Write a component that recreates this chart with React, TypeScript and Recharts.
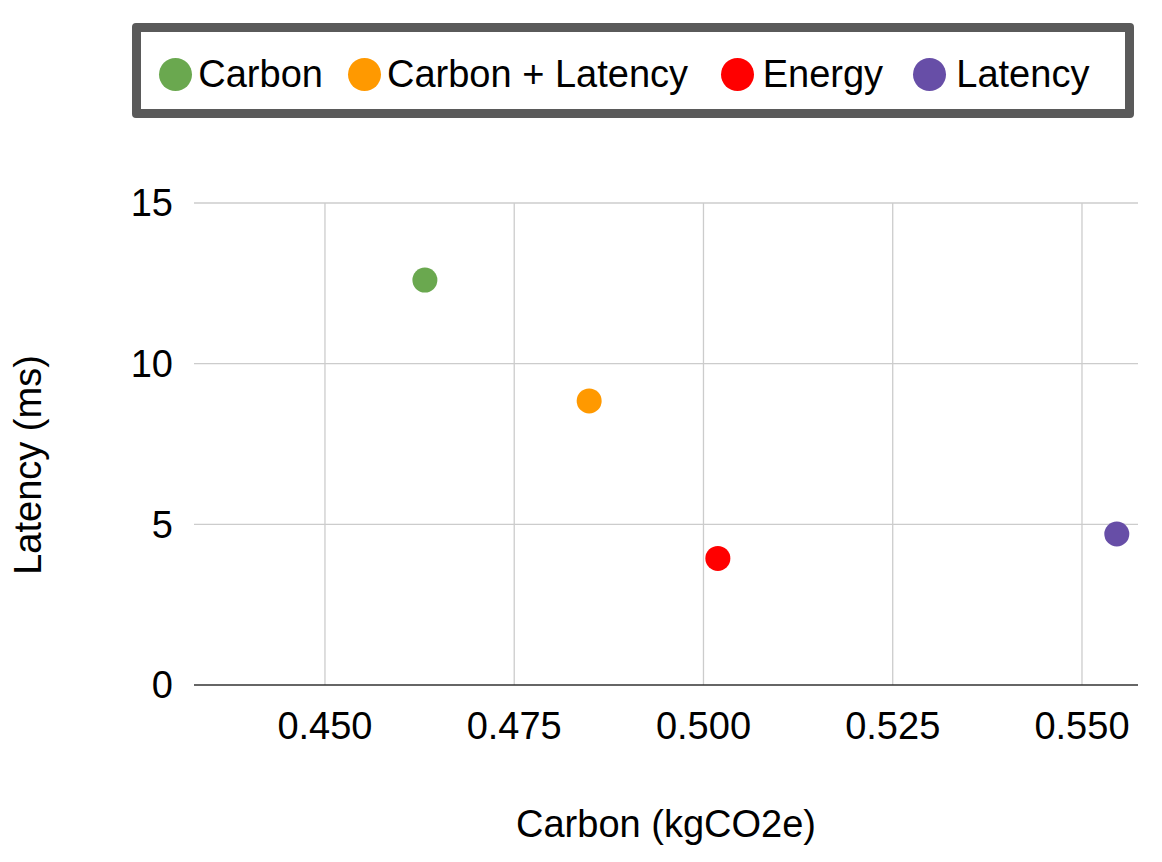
import React from "react";
import { ScatterChart, Scatter, XAxis, YAxis, ReferenceLine } from "recharts";

const seriesNames = ["Carbon", "Carbon + Latency", "Energy", "Latency"];
const seriesColors = ["#6aa84f", "#ff9900", "#ff0000", "#674ea7"];
const carbonValues = [0.4632, 0.4849, 0.5019, 0.5546];
const latencyValues = [12.6, 8.84, 3.94, 4.7];
const xTicks = [0.45, 0.475, 0.5, 0.525, 0.55];
const yTicks = [0, 5, 10, 15];

const FONT = '"Liberation Sans", Arial, sans-serif';
const FONT_SIZE = 38;
const DOT_R = 12.5;
const GRID = "#cccccc";

// legend item offsets inside the boxed legend (px from content edge) and swatch gaps
const legendLeft = [18.3, 207, 579.7, 772.3];
const legendGap = [6, 6, 9, 10];

const series = seriesNames.map((name, i) => ({
  name,
  color: seriesColors[i],
  data: [{ x: carbonValues[i], y: latencyValues[i] }],
}));

const YTitle = () => (
  <text
    x={33}
    y={457}
    transform="rotate(-90 33 457)"
    textAnchor="middle"
    fontSize={FONT_SIZE}
    fontFamily={FONT}
    fill="#000"
  >
    Latency (ms)
  </text>
);

const App: React.FC = () => {
  return (
    <div style={{ position: "relative", width: 1146, height: 846, fontFamily: FONT }}>
      <ScatterChart width={1146} height={846} margin={{ top: 195, right: 16, bottom: 0, left: 0 }}>
        <XAxis
          type="number"
          dataKey="x"
          domain={[0.4327, 0.5574]}
          ticks={xTicks}
          allowDataOverflow
          height={169}
          tickFormatter={(v: number) => v.toFixed(3)}
          tick={{ fontSize: FONT_SIZE, fill: "#000", fontFamily: FONT }}
          tickLine={false}
          tickSize={0}
          tickMargin={27}
          axisLine={{ stroke: "#333333", strokeWidth: 1.5 }}
          label={{
            value: "Carbon (kgCO2e)",
            position: "insideBottom",
            offset: 17,
            fontSize: FONT_SIZE,
            fill: "#000",
            fontFamily: FONT,
          }}
        />
        <YAxis
          type="number"
          dataKey="y"
          domain={[0, 15]}
          ticks={yTicks}
          width={186}
          tick={{ fontSize: FONT_SIZE, fill: "#000", fontFamily: FONT }}
          tickLine={false}
          tickSize={0}
          tickMargin={21}
          axisLine={false}
          label={<YTitle />}
        />

        {/* grid only at tick values */}
        {xTicks.map((t) => (
          <ReferenceLine key={`gx-${t}`} x={t} stroke={GRID} strokeWidth={1.3} />
        ))}
        {yTicks.filter((t) => t > 0).map((t) => (
          <ReferenceLine key={`gy-${t}`} y={t} stroke={GRID} strokeWidth={1.3} />
        ))}

        {series.map((s) => (
          <Scatter
            key={s.name}
            name={s.name}
            data={s.data}
            fill={s.color}
            isAnimationActive={false}
            shape={(p: any) => <circle cx={p.cx} cy={p.cy} r={DOT_R} fill={s.color} />}
          />
        ))}
      </ScatterChart>

      {/* Legend */}
      <div
        style={{
          position: "absolute",
          left: 124,
          top: 15,
          width: 1002,
          height: 95,
          boxSizing: "border-box",
          border: "9px solid #5a5a5a",
          borderRadius: 4,
          background: "#fff",
        }}
      >
        {series.map((s, i) => (
          <div
            key={s.name}
            style={{
              position: "absolute",
              left: legendLeft[i],
              top: 0,
              bottom: 0,
              paddingTop: 7,
              display: "flex",
              alignItems: "center",
              whiteSpace: "nowrap",
            }}
          >
            <div
              style={{
                width: 33,
                height: 33,
                borderRadius: "50%",
                background: s.color,
                marginRight: legendGap[i],
              }}
            />
            <span style={{ fontSize: FONT_SIZE, color: "#000", lineHeight: 1 }}>{s.name}</span>
          </div>
        ))}
      </div>
    </div>
  );
};

export default App;
